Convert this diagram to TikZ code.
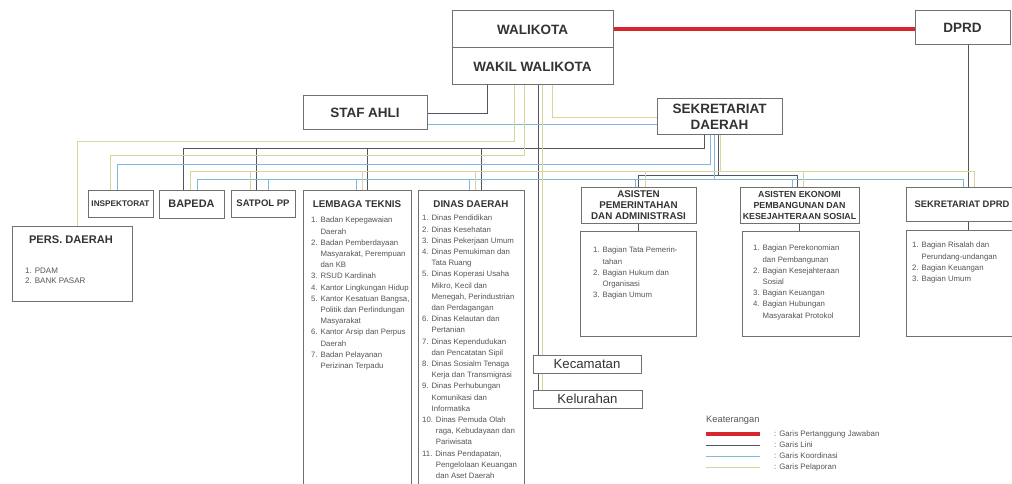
\documentclass[tikz,border=0pt]{standalone}
\usepackage{fontspec}
\setmainfont{Liberation Sans}
\usetikzlibrary{calc}

\definecolor{kotak}{HTML}{707070}
\definecolor{teks}{HTML}{333333}
\definecolor{teksisi}{HTML}{555555}
\definecolor{clini}{HTML}{55555D}
\definecolor{ckoor}{HTML}{7DB9DA}
\definecolor{clapor}{HTML}{D6D69C}
\definecolor{cjawab}{HTML}{D8262E}

\newcommand{\ind}{\hphantom{1. }}
\newcommand{\indd}{\hphantom{10. }}

\begin{document}
\begin{tikzpicture}[x=1pt, y=-1pt,
    box/.style={draw=kotak, line width=1pt, fill=white, inner sep=0pt, text=teks},
    judul/.style={font=\fontsize{13.5}{16}\selectfont\bfseries, text=teks, align=center},
    isi/.style={font=\fontsize{7.8}{11.2}\selectfont, text=teksisi, align=left, inner sep=0pt, anchor=north west},
    lini/.style={draw=clini, line width=0.9pt},
    koor/.style={draw=ckoor, line width=0.9pt},
    lapor/.style={draw=clapor, line width=0.9pt},
    jawab/.style={draw=cjawab, line width=4pt}]
    \useasboundingbox (0,0) rectangle (1012,484);
    \clip (0,0) rectangle (1012,484);

    % Pimpinan
    \node[box, minimum width=161, minimum height=37, judul] (walikota) at (532.5,29.5) {WALIKOTA};
    \node[box, minimum width=161, minimum height=37, judul] (wakil) at (532.5,66.5) {WAKIL WALIKOTA};
    \node[box, minimum width=95, minimum height=34, judul] (dprd) at (962.5,28) {DPRD};
    \node[box, minimum width=124, minimum height=34, judul] (staf) at (365,113) {STAF AHLI};
    \node[box, minimum width=125, minimum height=36, judul] (sekda) at (719.5,117) {SEKRETARIAT\\DAERAH};

    % Kotak kecil
    \node[box, minimum width=65, minimum height=27, font=\fontsize{8.2}{10}\selectfont\bfseries] (insp) at (120.5,203.5) {INSPEKTORAT};
    \node[box, minimum width=65, minimum height=28, font=\fontsize{10.9}{12}\selectfont\bfseries] (bapeda) at (191.5,204) {BAPEDA};
    \node[box, minimum width=64, minimum height=27, font=\fontsize{9.5}{11}\selectfont\bfseries] (satpol) at (263,203.5) {SATPOL PP};

    % Lembaga teknis
    \node[box, minimum width=108, minimum height=310] (lembaga) at (357,345) {};
    \node[font=\fontsize{9.8}{11}\selectfont\bfseries, text=teks] (lembagaT) at (357,204) {LEMBAGA TEKNIS};
    \node[isi] (lembagaI) at (311,217) {1. Badan Kepegawaian\\\ind Daerah\\2. Badan Pemberdayaan\\\ind Masyarakat, Perempuan\\\ind dan KB\\3. RSUD Kardinah\\4. Kantor Lingkungan Hidup\\5. Kantor Kesatuan Bangsa,\\\ind Politik dan Perlindungan\\\ind Masyarakat\\6. Kantor Arsip dan Perpus\\\ind Daerah\\7. Badan Pelayanan\\\ind Perizinan Terpadu};

    % Dinas daerah
    \node[box, minimum width=106, minimum height=310] (dinas) at (471,345) {};
    \node[font=\fontsize{9.8}{11}\selectfont\bfseries, text=teks] (dinasT) at (471,204) {DINAS DAERAH};
    \node[isi] (dinasI) at (422,215) {1. Dinas Pendidikan\\2. Dinas Kesehatan\\3. Dinas Pekerjaan Umum\\4. Dinas Pemukiman dan\\\ind Tata Ruang\\5. Dinas Koperasi Usaha\\\ind Mikro, Kecil dan\\\ind Menegah, Perindustrian\\\ind dan Perdagangan\\6. Dinas Kelautan dan\\\ind Pertanian\\7. Dinas Kependudukan\\\ind dan Pencatatan Sipil\\8. Dinas Sosialm Tenaga\\\ind Kerja dan Transmigrasi\\9. Dinas Perhubungan\\\ind Komunikasi dan\\\ind Informatika\\10. Dinas Pemuda Olah\\\indd raga, Kebudayaan dan\\\indd Pariwisata\\11. Dinas Pendapatan,\\\indd Pengelolaan Keuangan\\\indd dan Aset Daerah};

    % Perusahaan daerah
    \node[box, minimum width=120, minimum height=75] (pers) at (72,263.5) {};
    \node[font=\fontsize{11.1}{13}\selectfont\bfseries, text=teks] (persT) at (71,240) {PERS. DAERAH};
    \node[isi, font=\fontsize{8}{10}\selectfont] (persI) at (25,268) {1. PDAM\\2. BANK PASAR};

    % Asisten
    \node[box, minimum width=115, minimum height=36, font=\fontsize{9.8}{11}\selectfont\bfseries, align=center] (asisP) at (638.5,205) {ASISTEN\\PEMERINTAHAN\\DAN ADMINISTRASI};
    \node[box, minimum width=116, minimum height=105] (asisPbox) at (638,283.5) {};
    \node[isi] (asisPI) at (593,247) {1. Bagian Tata Pemerin-\\\ind tahan\\2. Bagian Hukum dan\\\ind Organisasi\\3. Bagian Umum};

    \node[box, minimum width=119, minimum height=36, font=\fontsize{8.8}{11}\selectfont\bfseries, align=center] (asisE) at (799.5,205) {ASISTEN EKONOMI\\PEMBANGUNAN DAN\\KESEJAHTERAAN SOSIAL};
    \node[box, minimum width=117, minimum height=105] (asisEbox) at (800.5,283.5) {};
    \node[isi] (asisEI) at (753,245) {1. Bagian Perekonomian\\\ind dan Pembangunan\\2. Bagian Kesejahteraan\\\ind Sosial\\3. Bagian Keuangan\\4. Bagian Hubungan\\\ind Masyarakat Protokol};

    % Sekretariat DPRD
    \node[box, minimum width=124, minimum height=34] (sekdprd) at (968,204) {};
    \node[font=\fontsize{9.4}{11}\selectfont\bfseries, text=teks, inner sep=0pt] (sekdprdT) at (962,204) {SEKRETARIAT DPRD};
    \node[box, minimum width=124, minimum height=106] (sekdprdbox) at (968,283) {};
    \node[isi] (sekdprdI) at (912,242) {1. Bagian Risalah dan\\\ind Perundang-undangan\\2. Bagian Keuangan\\3. Bagian Umum};

    % Kecamatan
    \node[box, minimum width=108, minimum height=18, font=\fontsize{13.2}{15}\selectfont] (kecamatan) at (587,364) {Kecamatan};
    \node[box, minimum width=109, minimum height=18, font=\fontsize{13.2}{15}\selectfont] (kelurahan) at (587.5,399) {Kelurahan};

    % Coordinates
    \coordinate (wPers) at ([xshift=-18.5pt]wakil.south);
    \coordinate (wInsp) at ([xshift=-8.5pt]wakil.south);
    \coordinate (wLini) at ([xshift=5.5pt]wakil.south);
    \coordinate (wKec) at ([xshift=9.5pt]wakil.south);
    \coordinate (wSek) at ([xshift=19.5pt]wakil.south);
    \coordinate (wStaf) at ([xshift=-45.5pt]wakil.south);

    \coordinate (sLini) at ([xshift=-15.5pt]sekda.south);
    \coordinate (sKoorA) at ([xshift=-9.5pt]sekda.south);
    \coordinate (sKoorB) at ([xshift=-5.5pt]sekda.south);
    \coordinate (sLiniB) at ([xshift=-1.5pt]sekda.south);
    \coordinate (sLapor) at ([xshift=1pt]sekda.south);

    \coordinate (yPers) at (0,141);
    \coordinate (yLini) at (0,148);
    \coordinate (yInsp) at (0,155);
    \coordinate (yKoorA) at (0,164);
    \coordinate (yLapor) at (0,171);
    \coordinate (yLiniB) at (0,175);
    \coordinate (yKoorB) at (0,179);
    \coordinate (yStafK) at (0,124);

    \coordinate (pY) at ([xshift=5pt]pers.north);
    \coordinate (iY) at ([xshift=-10.5pt]insp.north);
    \coordinate (iK) at ([xshift=-3.5pt]insp.north);
    \coordinate (bL) at ([xshift=-8.5pt]bapeda.north);
    \coordinate (bY) at ([xshift=-1.5pt]bapeda.north);
    \coordinate (bK) at ([xshift=5.5pt]bapeda.north);
    \coordinate (tY) at ([xshift=-13pt]satpol.north);
    \coordinate (tL) at ([xshift=-7pt]satpol.north);
    \coordinate (tK) at ([xshift=5pt]satpol.north);
    \coordinate (lK) at ([xshift=-1pt]lembaga.north);
    \coordinate (lY) at ([xshift=5pt]lembaga.north);
    \coordinate (lL) at ([xshift=10pt]lembaga.north);
    \coordinate (dK) at ([xshift=-2pt]dinas.north);
    \coordinate (dY) at ([xshift=4pt]dinas.north);
    \coordinate (dL) at ([xshift=10pt]dinas.north);
    \coordinate (aK) at ([xshift=-3pt]asisP.north);
    \coordinate (aL) at ([xshift=0pt]asisP.north);
    \coordinate (aY) at ([xshift=7pt]asisP.north);
    \coordinate (eK) at ([xshift=-7.5pt]asisE.north);
    \coordinate (eL) at ([xshift=-2.5pt]asisE.north);
    \coordinate (eY) at ([xshift=3.5pt]asisE.north);
    \coordinate (sK) at ([xshift=-5pt]sekdprd.north);
    \coordinate (sY) at ([xshift=6pt]sekdprd.north);

    % Garis pertanggung jawaban
    \draw[jawab] (walikota.east) -- (dprd.west |- walikota.east);

    % Garis lini
    \draw[lini] (wStaf) |- (staf.east);
    \draw[lini] (wLini) -- (kecamatan.north -| wLini);
    \draw[lini] (kecamatan.south -| wLini) -- (kelurahan.north -| wLini);
    \draw[lini] (sekdprd.north |- dprd.south) -- (sekdprd.north);
    \draw[lini] (sLini) |- (bL |- yLini) -- (bL);
    \draw[lini] (tL |- yLini) -- (tL);
    \draw[lini] (lL |- yLini) -- (lL);
    \draw[lini] (dL |- yLini) -- (dL);
    \draw[lini] (sLiniB) |- (aL |- yLiniB) -- (aL);
    \draw[lini] (sLiniB |- yLiniB) -| (eL);
    \draw[lini] (asisP.south) -- (asisP.south |- asisPbox.north);
    \draw[lini] (asisE.south) -- (asisE.south |- asisEbox.north);
    \draw[lini] (sekdprd.south) -- (sekdprdbox.north);

    % Garis koordinasi
    \draw[koor] (staf.east |- yStafK) -- (sekda.west |- yStafK);
    \draw[koor] (sKoorA) |- (iK |- yKoorA) -- (iK);
    \draw[koor] (sKoorB) |- (bK |- yKoorB) -- (bK);
    \draw[koor] (sKoorB |- yKoorB) -| (sK);
    \draw[koor] (tK |- yKoorB) -- (tK);
    \draw[koor] (lK |- yKoorB) -- (lK);
    \draw[koor] (dK |- yKoorB) -- (dK);
    \draw[koor] (aK |- yKoorB) -- (aK);
    \draw[koor] (eK |- yKoorB) -- (eK);

    % Garis pelaporan
    \draw[lapor] (wPers) |- (pY |- yPers) -- (pY);
    \draw[lapor] (wInsp) |- (iY |- yInsp) -- (iY);
    \draw[lapor] (wSek) |- (sekda.west);
    \draw[lapor] (wKec) -- (kecamatan.north -| wKec);
    \draw[lapor] (kecamatan.south -| wKec) -- (kelurahan.north -| wKec);
    \draw[lapor] (sLapor) |- (bY |- yLapor) -- (bY);
    \draw[lapor] (sLapor |- yLapor) -| (sY);
    \draw[lapor] (tY |- yLapor) -- (tY);
    \draw[lapor] (lY |- yLapor) -- (lY);
    \draw[lapor] (dY |- yLapor) -- (dY);
    \draw[lapor] (aY |- yLapor) -- (aY);
    \draw[lapor] (eY |- yLapor) -- (eY);

    % Keterangan
    \node[anchor=west, inner sep=0pt, font=\fontsize{9.3}{11}\selectfont, text=teksisi] (ket) at (706,420) {Keaterangan};
    \draw[jawab, line width=3.5pt] (706,434) -- (760,434);
    \draw[lini] (706,445) -- (760,445);
    \draw[koor] (706,456) -- (760,456);
    \draw[lapor] (706,467) -- (760,467);
    \node[anchor=west, inner sep=0pt, font=\fontsize{7.9}{10}\selectfont, text=teksisi] (ketA) at (774,434) {: Garis Pertanggung Jawaban};
    \node[anchor=west, inner sep=0pt, font=\fontsize{7.9}{10}\selectfont, text=teksisi] (ketB) at (774,445) {: Garis Lini};
    \node[anchor=west, inner sep=0pt, font=\fontsize{7.9}{10}\selectfont, text=teksisi] (ketC) at (774,456) {: Garis Koordinasi};
    \node[anchor=west, inner sep=0pt, font=\fontsize{7.9}{10}\selectfont, text=teksisi] (ketD) at (774,467) {: Garis Pelaporan};
\end{tikzpicture}
\end{document}
